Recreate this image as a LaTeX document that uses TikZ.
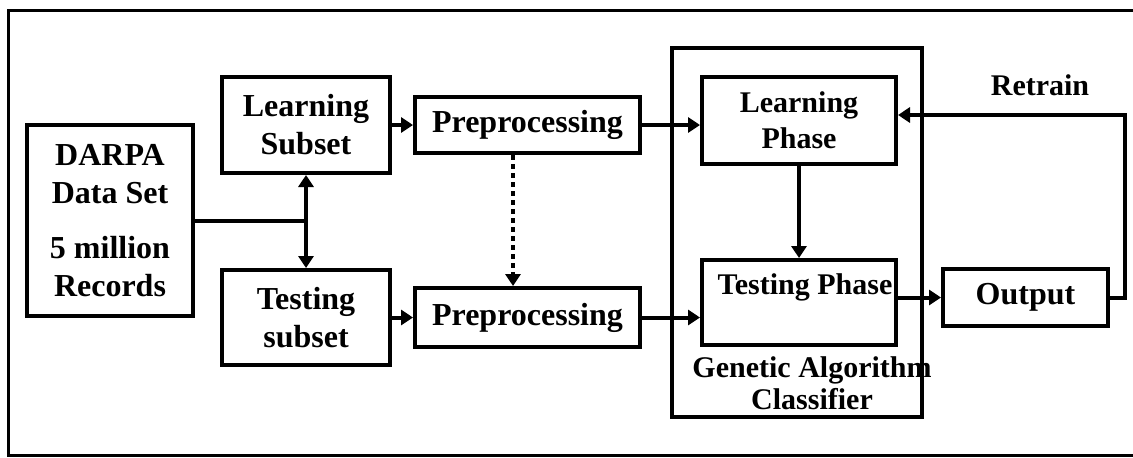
\documentclass[tikz,border=0pt]{standalone}
\usepackage{fontspec}
\setmainfont{Liberation Serif}
\usetikzlibrary{arrows.meta,calc}
\begin{document}
\begin{tikzpicture}[x=1pt,y=-1pt,
  box/.style={draw, line width=4pt, align=center, inner sep=0pt,
    font=\bfseries\fontsize{32}{38}\selectfont},
  phbox/.style={box, font=\bfseries\fontsize{30}{36}\selectfont},
  lbl/.style={align=center, inner sep=0pt, font=\bfseries\fontsize{30}{32}\selectfont},
  arr/.style={line width=4pt, -{Triangle[length=12pt,width=15pt]}},
  conn/.style={line width=4pt}]
\useasboundingbox (0,0) rectangle (1133,458);
% outer frame (right side cut off by the page)
\draw[line width=3pt] (1140,10) -| (8,455) -- (1140,455);

\node[box, minimum width=166pt, minimum height=191pt] (darpa) at (110,220.5)
  {DARPA\\Data Set\\[17pt]5 million\\Records};
\node[box, minimum width=168pt, minimum height=96pt] (ls) at (306,125) {Learning\\Subset};
\node[box, minimum width=168pt, minimum height=95pt] (ts) at (306,317.5) {Testing\\subset};
\node[box, minimum width=225pt, minimum height=56pt] (pp1) at (527.5,125) {Preprocessing};
\node[box, minimum width=225pt, minimum height=59pt] (pp2) at (527.5,317.5) {Preprocessing};
\node[box, minimum width=250pt, minimum height=369pt] (ga) at (797,232.5) {};
\node[phbox, minimum width=194pt, minimum height=87pt] (lp) at (799,120.5) {Learning\\Phase};
\node[phbox, minimum width=194pt, minimum height=85pt] (tp) at (799,302.5) {};
\node[lbl] (tplbl) at (805,287) {Testing Phase};
\node[box, minimum width=165pt, minimum height=57pt] (out) at (1025.5,297.5) {Output};
\node[lbl] (galbl) at (812,383) {Genetic Algorithm\\Classifier};
\node[lbl] (retrain) at (1040,85) {Retrain};
\coordinate (rt) at (1125,115);

% connectors
\draw[conn] (darpa.east) -- (darpa.east -| ls.south);
\draw[line width=4pt, {Triangle[length=12pt,width=15pt]}-{Triangle[length=12pt,width=15pt]}]
  (ls.south) -- (ts.north);
\draw[arr] (ls.east) -- (pp1.west);
\draw[arr] (ts.east) -- (pp2.west);
\draw[arr] (pp1.east) -- (pp1.east -| lp.west);
\draw[arr] (pp2.east) -- (pp2.east -| tp.west);
\draw[arr, dash pattern=on 5pt off 4pt] ([xshift=-14.5pt]pp1.south) -- ([xshift=-14.5pt]pp2.north);
\draw[arr] (lp.south) -- (tp.north);
\draw[arr] (out.west -| tp.east) -- (out.west);
\draw[arr] (out.east) -| (rt) -- (rt -| lp.east);
\end{tikzpicture}
\end{document}
